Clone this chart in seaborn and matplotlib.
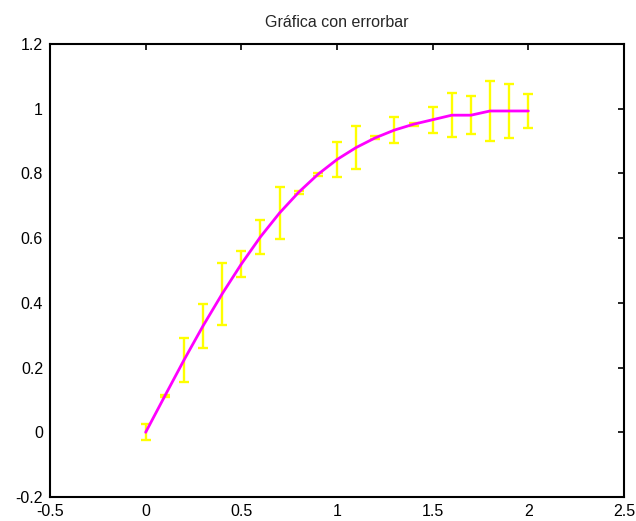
import numpy as np
import pandas as pd
import matplotlib
matplotlib.use("Agg")
import matplotlib.pyplot as plt
import seaborn as sns

x_vals = [0.0, 0.1, 0.2, 0.3, 0.4, 0.5, 0.6, 0.7, 0.8, 0.9, 1.0,
          1.1, 1.2, 1.3, 1.4, 1.5, 1.6, 1.7, 1.8, 1.9, 2.0]
y_vals = [0.000, 0.112, 0.223, 0.329, 0.428, 0.520, 0.604, 0.678, 0.742, 0.797, 0.843,
          0.880, 0.910, 0.934, 0.952, 0.966, 0.980, 0.980, 0.993, 0.993, 0.993]
err_vals = [0.025, 0.004, 0.067, 0.068, 0.095, 0.040, 0.052, 0.080, 0.005, 0.004, 0.053,
            0.066, 0.005, 0.040, 0.004, 0.040, 0.068, 0.058, 0.093, 0.083, 0.052]
x_ticks = [-0.5, 0, 0.5, 1, 1.5, 2, 2.5]
x_ticklabels = ["-0.5", "0", "0.5", "1", "1.5", "2", "2.5"]
y_ticks = [-0.2, 0, 0.2, 0.4, 0.6, 0.8, 1.0, 1.2]
y_ticklabels = ["-0.2", "0", "0.2", "0.4", "0.6", "0.8", "1", "1.2"]
title = "Gráfica con errorbar"

df = pd.DataFrame({"x": x_vals, "y": y_vals, "e": err_vals})

sns.set_style("white")
plt.rcParams["font.family"] = ["Liberation Sans", "DejaVu Sans"]

fig = plt.figure(figsize=(6.36, 5.21), dpi=100)
ax = fig.add_axes([50 / 636, 24 / 521, (624 - 50) / 636, (497 - 44) / 521])

ax.errorbar(df["x"], df["y"], yerr=df["e"], fmt="none", ecolor="#FFFF00",
            elinewidth=1.7, capsize=3.4, capthick=1.7, zorder=2)
sns.lineplot(data=df, x="x", y="y", color="#FF00FF", linewidth=2.0, ax=ax,
             zorder=3, estimator=None)

ax.set_xlim(-0.5, 2.5)
ax.set_ylim(-0.2, 1.2)
ax.set_xticks(x_ticks)
ax.set_xticklabels(x_ticklabels)
ax.set_yticks(y_ticks)
ax.set_yticklabels(y_ticklabels)
ax.set_xlabel("")
ax.set_ylabel("")
ax.tick_params(direction="in", length=4, width=1.2, top=True, right=True,
               labelsize=11.5, colors="black", pad=5)
for s in ax.spines.values():
    s.set_visible(True)
    s.set_color("black")
    s.set_linewidth(1.5)
ax.set_title(title, fontsize=11.5, pad=12)

fig.savefig("out.png", dpi=100)
